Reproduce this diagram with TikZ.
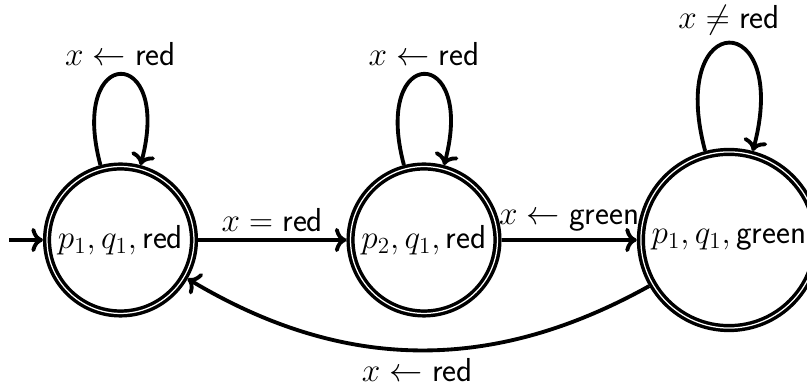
\documentclass[tikz,border=0pt]{standalone}
\usetikzlibrary{automata,arrows.meta}
\begin{document}
\begin{tikzpicture}[x=0.52pt,y=0.52pt,
  font=\LARGE,
  statebox/.style={circle,draw,line width=1.8pt,double,double distance=0.65pt,
    outer sep=2.15pt,inner sep=0pt},
  smallstate/.style={statebox,minimum size=76.4pt},
  bigstate/.style={statebox,minimum size=91.6pt},
  edge/.style={->,line width=2pt}]
\useasboundingbox (0,0) rectangle (807,-385);
\node[smallstate] (n1) at (120.5,-240) {$p_1, q_1, \textsf{red}$};
\node[smallstate] (n2) at (424,-240) {$p_2, q_1, \textsf{red}$};
\node[bigstate] (n3) at (729,-240) {$p_1, q_1, \textsf{green}$};
\coordinate (s) at (9,-240);
\draw[edge] (s) -- (n1);
\draw[edge] (n1) -- node[above] {$x = \textsf{red}$} (n2);
\draw[edge] (n2) -- node[above] {$x \leftarrow \textsf{green}$} (n3);
\draw[edge] (n1) to[loop above] node[above] {$x \leftarrow \textsf{red}$} (n1);
\draw[edge] (n2) to[loop above] node[above] {$x \leftarrow \textsf{red}$} (n2);
\draw[edge] (n3) to[loop above] node[above] {$x \neq \textsf{red}$} (n3);
\draw[edge] (n3) to[bend left=30] node[below,inner sep=0.8pt,yshift=-2.3pt] {$x \leftarrow \textsf{red}$} (n1);
\end{tikzpicture}
\end{document}
